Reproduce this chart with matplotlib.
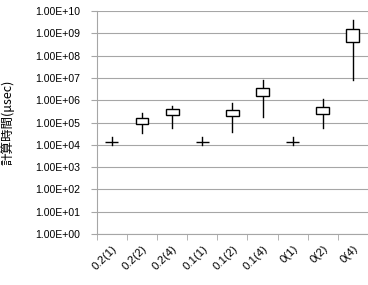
import matplotlib.pyplot as plt
from matplotlib.ticker import FixedLocator, NullFormatter

plt.rcParams['font.family'] = ['Noto Sans CJK JP', 'DejaVu Sans']

categories = ['0.2(1)', '0.2(2)', '0.2(4)', '0.1(1)', '0.1(2)', '0.1(4)', '0(1)', '0(2)', '0(4)']
whisker_lo = [1.0e4, 3.4e4, 5.5e4, 1.0e4, 3.6e4, 1.7e5, 1.0e4, 5.5e4, 8.1e6]
box_lo = [1.28e4, 8.5e4, 2.2e5, 1.28e4, 2.0e5, 1.55e6, 1.28e4, 2.4e5, 4.2e8]
box_hi = [1.38e4, 1.6e5, 3.9e5, 1.38e4, 3.6e5, 3.6e6, 1.38e4, 4.8e5, 1.55e9]
whisker_hi = [2.2e4, 2.7e5, 5.5e5, 2.2e4, 7.8e5, 8.1e6, 2.2e4, 1.1e6, 4.0e9]

grid_col = '#a6a6a6'

fig = plt.figure(figsize=(3.68, 2.85), dpi=100)
ax = fig.add_axes([0.263, 0.179, 0.737, 0.782])
ax.set_yscale('log')
ax.set_ylim(1, 1e10)
ax.set_xlim(0.5, 9.5)

xs = list(range(1, len(categories) + 1))
half = 0.215
for x, wl, bl, bh, wh in zip(xs, whisker_lo, box_lo, box_hi, whisker_hi):
    ax.plot([x, x], [wl, wh], color='black', lw=1.0, zorder=3)
    ax.fill([x - half, x + half, x + half, x - half], [bl, bl, bh, bh],
            facecolor='white', edgecolor='black', lw=1.0, zorder=4)

yt = [10.0 ** k for k in range(11)]
ax.yaxis.set_major_locator(FixedLocator(yt))
ax.yaxis.set_minor_locator(FixedLocator([]))
ax.set_yticklabels(['1.00E+%02d' % k for k in range(11)], fontsize=7.6,
                   family='Liberation Sans')
ax.grid(axis='y', color=grid_col, lw=0.8)
ax.set_axisbelow(True)

ax.set_xticks(xs)
ax.set_xticklabels(categories, rotation=45, ha='right', rotation_mode='anchor',
                   fontsize=8.2, family='Liberation Sans')
ax.xaxis.set_minor_locator(FixedLocator([0.5 + k for k in range(10)]))
ax.xaxis.set_minor_formatter(NullFormatter())
ax.tick_params(axis='x', which='major', length=0, pad=7)
ax.tick_params(axis='x', which='minor', length=4, color=grid_col)
ax.tick_params(axis='y', length=4, color=grid_col, pad=8)

for s in ['top', 'right']:
    ax.spines[s].set_visible(False)
for s in ['left', 'bottom']:
    ax.spines[s].set_color(grid_col)

ax.set_ylabel('計算時間(μsec)', fontsize=9)
ax.yaxis.set_label_coords(-0.305, 0.5)

fig.savefig('out.png', dpi=100)
